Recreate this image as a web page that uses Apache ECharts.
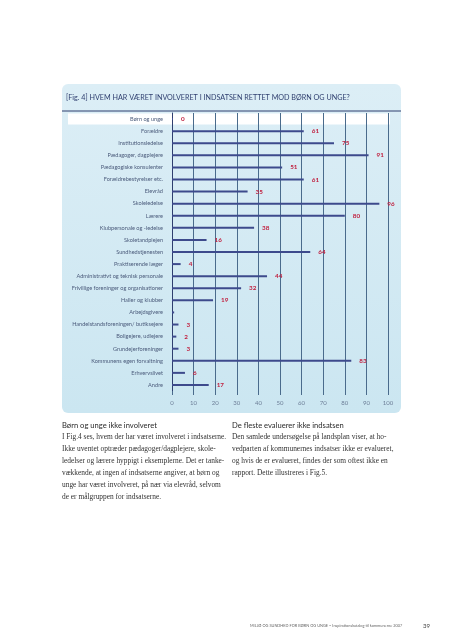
<!DOCTYPE html>
<html><head><meta charset="utf-8">
<script src="https://cdn.jsdelivr.net/npm/echarts@6/dist/echarts.min.js"></script>
<style>html,body{margin:0;padding:0;background:#fff}#c{width:453px;height:640px}</style>
</head><body><div id="c"></div>
<script>
const categories = ['Børn og unge','Forældre','Institutionsledelse','Pædagoger, dagplejere','Pædagogiske konsulenter','Forældrebestyrelser etc.','Elevråd','Skoleledelse','Lærere','Klubpersonale og -ledelse','Skoletandplejen','Sundhedstjenesten','Praktiserende læger','Administrativt og teknisk personale','Frivillige foreninger og organisationer','Haller og klubber','Arbejdsgivere','Handelstandsforeningen/ butiksejere','Boligejere, udlejere','Grundejerforeninger','Kommunens egen forvaltning','Erhvervslivet','Andre'];
const values = [0,61,75,91,51,61,35,96,80,38,16,64,4,44,32,19,1,3,2,3,83,6,17];
const valueLabels = ['0','61','75','91','51','61','35','96','80','38','16','64','4','44','32','19','','3','2','3','83','6','17'];
const xTicks = [0,10,20,30,40,50,60,70,80,90,100];
const title = '[Fig. 4] HVEM HAR VÆRET INVOLVERET I INDSATSEN RETTET MOD BØRN OG UNGE?';
const leftHead = 'Børn og unge ikke involveret';
const leftBody = ['I Fig.4 ses, hvem der har været involveret i indsatserne.','Ikke uventet optræder pædagoger/dagplejere, skole-','ledelser og lærere hyppigt i eksemplerne. Det er tanke-','vækkende, at ingen af indsatserne angiver, at børn og','unge har været involveret, på nær via elevråd, selvom','de er målgruppen for indsatserne.'];
const rightHead = 'De fleste evaluerer ikke indsatsen';
const rightBody = ['Den samlede undersøgelse på landsplan viser, at ho-','vedparten af kommunernes indsatser ikke er evalueret,','og hvis de er evalueret, findes der som oftest ikke en','rapport. Dette illustreres i Fig.5.'];
const footer = 'MILJØ OG SUNDHED FOR BØRN OG UNGE – Inspirationskatalog til kommunerne 2007';
const pageNo = '39';

const chart = echarts.init(document.getElementById('c'), null, {renderer:'canvas'});
const sans = 'Lato, "Open Sans", sans-serif';
const serif = '"Liberation Serif", "DejaVu Serif", serif';

function textBlock(x, y, head, lines) {
  const els = [{type:'text', left:x, top:y, style:{text:head, font:'7.6px '+sans, fill:'#2a2a2a'}}];
  lines.forEach((l,i)=>els.push({type:'text', left:x, top:y+12*(i+1), style:{text:l, font:'7.4px '+serif, fill:'#333'}}));
  return els;
}

const baseGraphics = [
  {type:'rect', z:-20, shape:{x:62,y:84,width:339,height:329,r:6}, style:{fill:new echarts.graphic.LinearGradient(0,0,0,1,[{offset:0,color:'#dcEEf6'},{offset:1,color:'#cbe6f1'}])}},
  {type:'text', left:66, top:94, style:{text:title, font:'7.2px '+sans, fill:'#2f3f6f'}},
  {type:'line', shape:{x1:62,y1:111,x2:401,y2:111}, style:{stroke:'#2f3f6f', lineWidth:1}},
  ...textBlock(62, 422, leftHead, leftBody),
  ...textBlock(232, 422, rightHead, rightBody),
  {type:'text', left:250, top:624, style:{text:footer, font:'3.9px '+sans, fill:'#666'}},
  {type:'text', left:423, top:623, style:{text:pageNo, font:'6px '+sans, fill:'#444'}}
];

const option = {
  animation:false,
  grid:{left:172, right:65, top:113, height:278, containLabel:false},
  xAxis:{type:'value', min:0, max:100, interval:10, position:'bottom',
    axisLine:{show:false}, axisTick:{show:true, length:4, lineStyle:{color:'#4a6b8c', width:1}},
    axisLabel:{color:'#6d7f98', fontSize:6, fontFamily:sans, margin:9, formatter:(v)=>xTicks.includes(v)?String(v):''},
    splitLine:{show:true, lineStyle:{color:'#4a6b8c', width:1}}},
  yAxis:{type:'category', data:categories, inverse:true,
    axisLine:{show:true, lineStyle:{color:'#2f3f6f', width:1}}, axisTick:{show:false},
    axisLabel:{color:'#4b5b7b', fontSize:5.6, fontFamily:sans, margin:9},
    splitLine:{show:false}},
  series:[{type:'bar', data:values, barWidth:2, barMinHeight:1,
    itemStyle:{color:'#3d4a8c'},
    label:{show:true, position:'right', distance:8, color:'#c0203f', fontSize:6.3, fontWeight:'bold', fontFamily:sans,
      formatter:(p)=>valueLabels[p.dataIndex]}}],
  graphic:baseGraphics
};
chart.setOption(option);
const yc = chart.convertToPixel({yAxisIndex:0}, categories[0]);
const yn = chart.convertToPixel({yAxisIndex:0}, categories[1]);
const band = yn - yc;
chart.setOption({graphic:[...baseGraphics,
  {type:'rect', z:-10, shape:{x:68, y:yc-band/2+0.5, width:322, height:band-1}, style:{fill:'#ffffff'}}]}, {replaceMerge:['graphic']});
</script></body></html>
